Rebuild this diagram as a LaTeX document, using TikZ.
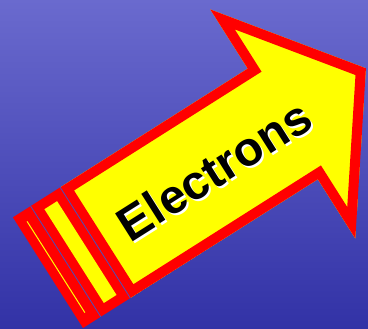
\documentclass[tikz,border=0pt]{standalone}
\usepackage{fontspec}
\setmainfont{Liberation Sans}
\definecolor{bgtop}{RGB}{106,106,206}
\definecolor{bgbot}{RGB}{50,50,166}
\definecolor{sepblue}{RGB}{78,78,186}
\definecolor{arrred}{RGB}{255,0,0}
\definecolor{arryel}{RGB}{255,255,0}
\tikzset{
  labeltext/.style={font=\bfseries\fontsize{48}{48}\selectfont, inner sep=0pt, rotate=32.35},
  seppline/.style={sepblue, line width=0.8pt}
}
\begin{document}
\begin{tikzpicture}[x=1pt,y=1pt]
\useasboundingbox (0,0) rectangle (368,-329);
\shade[top color=bgtop, bottom color=bgbot] (0,0) rectangle (368,-329);
\begin{scope}[shift={(83,-328)}, rotate=32.35]
  % main body with arrow head
  \begin{scope}
    \clip (56,0) -- (278,0) -- (278,-70) -- (378,68) -- (278,201) -- (278,131) -- (56,131) -- cycle;
    \fill[arryel] (56,0) -- (278,0) -- (278,-70) -- (378,68) -- (278,201) -- (278,131) -- (56,131) -- cycle;
    \draw[arrred, line width=20pt, line join=miter, miter limit=20] (56,0) -- (278,0) -- (278,-70) -- (378,68) -- (278,201) -- (278,131) -- (56,131) -- cycle;
  \end{scope}
  % second tail segment
  \fill[arrred] (21,0) rectangle (56,131);
  \fill[arryel] (31,10) rectangle (46,121);
  % first tail segment
  \fill[arrred] (0,0) rectangle (21,131);
  \draw[arryel, line width=1pt] (9.8,12) -- (9.8,120);
  % separators
  \draw[seppline] (21,0) -- (21,131);
  \draw[seppline] (56,0) -- (56,131);
\end{scope}
\node[labeltext, white] (labelshadow) at (216,-172) {Electrons};
\node[labeltext, black] (label) at (214,-170) {Electrons};
\end{tikzpicture}
\end{document}
